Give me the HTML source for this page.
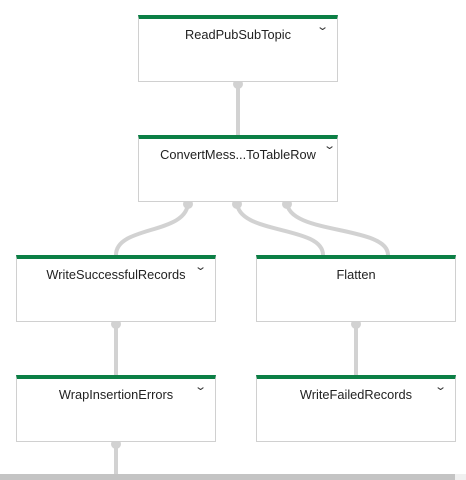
<!DOCTYPE html>
<html><head><style>
body{margin:0;width:466px;height:480px;overflow:hidden;background:#fff;font-family:"Liberation Sans",sans-serif;position:relative}
.n{position:absolute;width:198px;height:62px;border:1px solid #d0d0d0;border-top:4px solid #0b7f45;background:#fff;box-sizing:content-box}
.n span{position:absolute;left:0;right:0;top:8px;text-align:center;font-size:12.8px;color:#222}
.n i{position:absolute;right:10px;top:1px;font-style:normal;font-size:11px;color:#333;transform:scaleX(1.4)}
</style></head><body>
<svg width="466" height="480" style="position:absolute;left:0;top:0">
<g stroke="#d2d2d2" stroke-width="4" fill="none">
<path d="M238 82 V136"/>
<path d="M188 202 C188 235 116 225 116 255"/>
<path d="M237 202 C237 235 323 225 323 255"/>
<path d="M287 202 C287 235 388 225 388 255"/>
<path d="M116 322 V375"/>
<path d="M356 322 V375"/>
<path d="M116 442 V474"/>
</g>
<g fill="#d2d2d2">
<circle cx="238" cy="84" r="5"/><circle cx="188" cy="204" r="5"/><circle cx="237" cy="204" r="5"/><circle cx="287" cy="204" r="5"/>
<circle cx="116" cy="324" r="5"/><circle cx="356" cy="324" r="5"/><circle cx="116" cy="444" r="5"/>
</g>
<rect x="0" y="474" width="455" height="6" fill="#c4c4c4"/>
<rect x="455" y="474" width="11" height="6" fill="#f0f0f0"/>
</svg>
<div class="n" style="left:138px;top:15px"><span>ReadPubSubTopic</span><i>⌄</i></div>
<div class="n" style="left:138px;top:135px"><span>ConvertMess...ToTableRow</span><i style="right:3px;top:0">⌄</i></div>
<div class="n" style="left:16px;top:255px"><span>WriteSuccessfulRecords</span><i>⌄</i></div>
<div class="n" style="left:256px;top:255px"><span>Flatten</span></div>
<div class="n" style="left:16px;top:375px"><span>WrapInsertionErrors</span><i>⌄</i></div>
<div class="n" style="left:256px;top:375px"><span>WriteFailedRecords</span><i>⌄</i></div>
</body></html>
